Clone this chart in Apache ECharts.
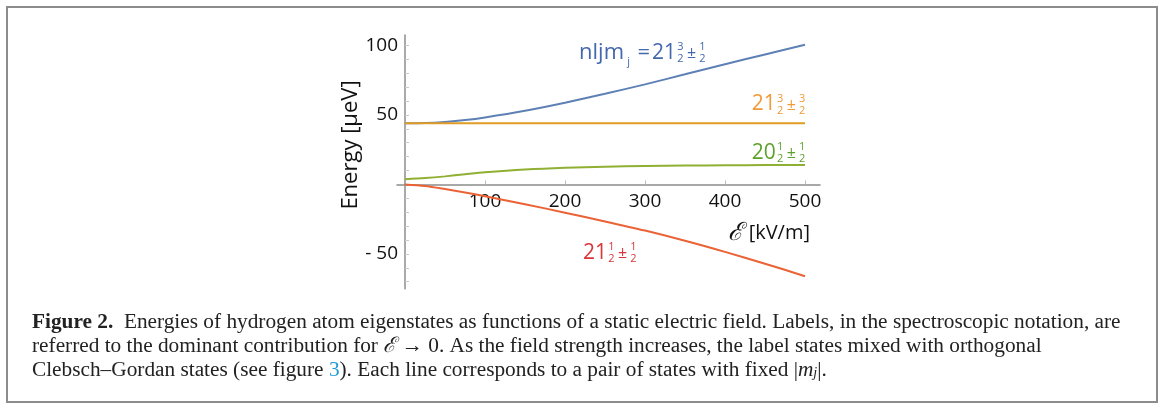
<!DOCTYPE html>
<html><head><meta charset="utf-8">
<script src="https://cdn.jsdelivr.net/npm/echarts@6/dist/echarts.min.js"></script>
<style>html,body{margin:0;padding:0;background:#fff}#c{width:1163px;height:407px}</style>
</head><body><div id="c"></div>
<script>
// ---- data ----
const fieldKVm    = [0, 25, 50, 75, 100, 150, 200, 250, 300, 350, 400, 450, 500];
const energyBlue  = [44, 44.2, 45, 46.3, 48.2, 53, 58.8, 65.2, 72, 79.2, 86.5, 93.5, 100.5];
const energyOrange= [44, 44, 44, 44, 44, 44, 44, 44, 44, 44, 44, 44, 44];
const energyGreen = [3.8, 4.6, 5.8, 7.3, 8.7, 10.7, 12, 12.8, 13.3, 13.6, 13.8, 13.9, 14];
const energyRed   = [0, -1.1, -3.3, -5.8, -8.5, -14.2, -20.3, -26.6, -33.2, -40.5, -48.5, -57, -66];
const xTickLabels = [100, 200, 300, 400, 500];
const yTickLabels = [-50, 50, 100];
const yTickMarks  = [-70, -60, -50, -40, -30, -20, -10, 10, 20, 30, 40, 50, 60, 70, 80, 90, 100];

const SANS = "'Open Sans', 'DejaVu Sans', sans-serif";
const SERIF = "'Liberation Serif', 'DejaVu Serif', serif";
const C = { blue:'#5E81B5', orange:'#E19C24', green:'#8FB032', red:'#EB6235' };
const T = { blue:'#4468ad', orange:'#F09A38', green:'#5ea12a', red:'#d9363b' };

const X_MIN = -10, X_MAX = 518.75, Y_MIN = -75, Y_MAX = 107.5;
const GRID = {left:397, top:35, width:423, height:253.7};
// shift the axes so they cross at the origin (Mathematica style)
const xAxisOffset = -GRID.height * (0 - Y_MIN) / (Y_MAX - Y_MIN);
const yAxisOffset = -GRID.width * (0 - X_MIN) / (X_MAX - X_MIN);

const pair = (xs, ys) => xs.map((x, i) => [x, ys[i]]);
const chart = echarts.init(document.getElementById('c'), null, {renderer:'canvas'});

const lineSeries = (data, color) => ({
  type:'line', data, smooth:0.3, showSymbol:false, symbol:'none',
  lineStyle:{color, width:2}, itemStyle:{color}, animation:false
});

chart.setOption({
  animation:false,
  backgroundColor:'#fff',
  grid:GRID,
  xAxis:{
    type:'value', min:X_MIN, max:X_MAX, offset:xAxisOffset,
    axisLine:{show:true, onZero:false, lineStyle:{color:'#8c8c8c', width:1.5}},
    axisTick:{show:true, inside:true, length:4, customValues:xTickLabels, lineStyle:{color:'#bdbdbd'}},
    axisLabel:{customValues:xTickLabels, color:'#111', fontSize:19, fontFamily:SANS, margin:8},
    splitLine:{show:false}
  },
  yAxis:{
    type:'value', min:Y_MIN, max:Y_MAX, offset:yAxisOffset,
    axisLine:{show:true, onZero:false, lineStyle:{color:'#8c8c8c', width:1.5}},
    axisTick:{show:true, inside:true, length:4, customValues:yTickMarks, lineStyle:{color:'#c8c8c8'}},
    axisLabel:{customValues:yTickLabels, color:'#111', fontSize:19, fontFamily:SANS, margin:7,
      formatter: v => v < 0 ? '- ' + Math.abs(v) : String(v)},
    splitLine:{show:false}
  },
  series:[
    lineSeries(pair(fieldKVm, energyBlue), C.blue),
    lineSeries(pair(fieldKVm, energyOrange), C.orange),
    lineSeries(pair(fieldKVm, energyGreen), C.green),
    lineSeries(pair(fieldKVm, energyRed), C.red)
  ]
});

// ---- annotations ----
const ctx = document.createElement('canvas').getContext('2d');
function tw(text, size){ ctx.font = size + "px 'Open Sans'"; return ctx.measureText(text).width; }
const px = (x, y) => chart.convertToPixel({gridIndex:0}, [x, y]);
function txt(x, y, text, size, color, align, extra){
  return Object.assign({type:'text', x, y, silent:true, style:{
    text, fill:color, fontSize:size, fontFamily:SANS,
    align:align || 'left', textAlign:align || 'left', verticalAlign:'middle', textVerticalAlign:'middle'}}, extra || {});
}
function stateLabel(dx, dy, whole, n1, n2, color){
  const [ax, ay] = px(dx, dy);
  const w = tw(whole, 21);
  const els = [txt(ax, ay, whole, 21, color)];
  const f1 = ax + w + 4.5, pm = ax + w + 15.5, f2 = ax + w + 26.5;
  els.push(txt(f1, ay - 5.5, n1, 11, color, 'center'));
  els.push(txt(f1, ay + 6.5, '2', 11, color, 'center'));
  els.push(txt(pm, ay + 1, '±', 16, color, 'center'));
  els.push(txt(f2, ay - 5.5, n2, 11, color, 'center'));
  els.push(txt(f2, ay + 6.5, '2', 11, color, 'center'));
  return els;
}
const g = [];
// blue label with prefix "nljm_j = "
const [bx, by] = px(308.75, 94.8);
g.push(txt(bx - 2, by, '=', 22, T.blue, 'right'));
g.push(txt(bx - 22, by + 9, 'j', 11, T.blue, 'right'));
g.push(txt(bx - 28, by, 'nljm', 22, T.blue, 'right'));
g.push(...stateLabel(308.75, 94.8, '21', '3', '1', T.blue));
g.push(...stateLabel(433.4, 57.6, '21', '3', '3', T.orange));
g.push(...stateLabel(433.4, 22.9, '20', '1', '1', T.green));
g.push(...stateLabel(222.5, -49.1, '21', '1', '1', T.red));

// axis titles
g.push(txt(351, 145, 'Energy [μeV]', 22, '#111', 'center', {rotation: Math.PI / 2}));
g.push({type:'text', x:810, y:233, silent:true, style:{
  text:'{e|ℰ}{t| [kV/m]}', align:'right', textAlign:'right', verticalAlign:'middle', textVerticalAlign:'middle',
  rich:{ e:{fontSize:25, fontFamily:"'DejaVu Serif', serif", fontStyle:'italic', fill:'#111'},
         t:{fontSize:20, fontFamily:SANS, fill:'#111'} }}});

// frame
g.push({type:'rect', silent:true, shape:{x:7, y:7, width:1150, height:395},
  style:{fill:'none', stroke:'#8c8c8c', lineWidth:2}});

// caption
const FS = 21.3;
const capRich = {
  n:{fontSize:FS, fontFamily:SERIF, fill:'#222'},
  b:{fontSize:FS, fontFamily:SERIF, fill:'#222', fontWeight:'bold'},
  l:{fontSize:FS, fontFamily:SERIF, fill:'#1E9BD7'},
  i:{fontSize:FS, fontFamily:SERIF, fill:'#222', fontStyle:'italic'},
  s:{fontSize:14, fontFamily:SERIF, fill:'#222', fontStyle:'italic', verticalAlign:'bottom'}
};
const capLines = [
  '{b|Figure 2.}{n|  Energies of hydrogen atom eigenstates as functions of a static electric field. Labels, in the spectroscopic notation, are}',
  '{n|referred to the dominant contribution for }{i|ℰ}{n| → 0. As the field strength increases, the label states mixed with orthogonal}',
  '{n|Clebsch–Gordan states (see figure }{l|3}{n|). Each line corresponds to a pair of states with fixed |}{i|m}{s|j}{n||.}'
];
capLines.forEach((t, k) => g.push({type:'text', x:32, y:322 + 24 * k, silent:true,
  style:{text:t, rich:capRich, align:'left', textAlign:'left', verticalAlign:'middle', textVerticalAlign:'middle'}}));

chart.setOption({graphic:{elements:g}});
</script>
</body></html>
